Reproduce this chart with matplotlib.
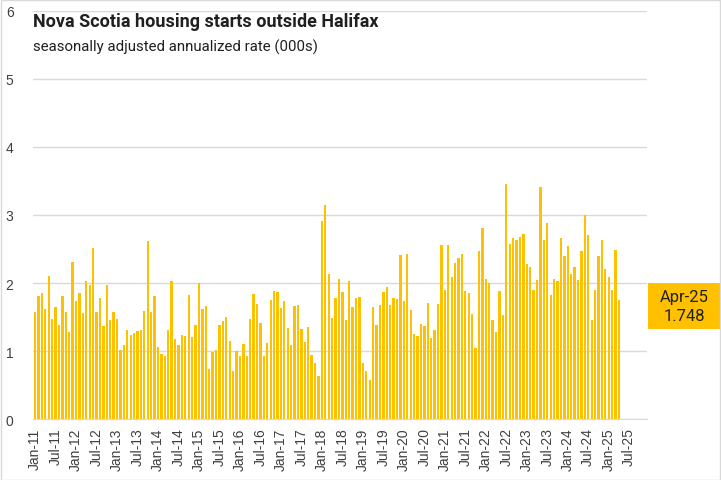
import numpy as np
import matplotlib.pyplot as plt
from matplotlib.patches import Rectangle

# ─────────────────────────── DATA ─────────────────────────────────────────────
# monthly starts, Jan-11 .. Apr-25 (SAAR, 000s)
starts = [
    1.57, 1.81, 1.85, 1.62, 2.10, 1.47, 1.65, 1.38, 1.81, 1.57, 1.28, 2.31,   # 2011
    1.74, 1.85, 1.56, 2.03, 1.97, 2.51, 1.57, 1.78, 1.37, 1.97, 1.46, 1.57,   # 2012
    1.47, 1.01, 1.09, 1.31, 1.24, 1.26, 1.29, 1.31, 1.59, 2.62, 1.57, 1.81,   # 2013
    1.06, 0.96, 0.93, 1.31, 2.03, 1.18, 1.09, 1.24, 1.22, 1.82, 1.21, 1.38,   # 2014
    2.00, 1.62, 1.66, 0.74, 0.99, 1.01, 1.38, 1.44, 1.50, 1.15, 0.71, 1.00,   # 2015
    0.93, 1.10, 0.93, 1.47, 1.84, 1.69, 1.41, 0.93, 1.12, 1.75, 1.88, 1.87,   # 2016
    1.63, 1.74, 1.34, 1.09, 1.66, 1.68, 1.32, 1.13, 1.35, 0.94, 0.82, 0.63,   # 2017
    2.91, 3.14, 2.13, 1.49, 1.78, 2.06, 1.87, 1.46, 2.03, 1.65, 1.78, 1.79,   # 2018
    0.82, 0.71, 0.57, 1.65, 1.38, 1.68, 1.87, 1.94, 1.68, 1.78, 1.76, 2.41,   # 2019
    1.74, 2.43, 1.60, 1.25, 1.22, 1.40, 1.37, 1.71, 1.19, 1.31, 1.69, 2.56,   # 2020
    1.90, 2.56, 2.09, 2.29, 2.37, 2.43, 1.88, 1.85, 1.54, 1.04, 2.47, 2.81,   # 2021
    2.06, 2.00, 1.46, 1.28, 1.88, 1.53, 3.46, 2.57, 2.66, 2.63, 2.68, 2.72,   # 2022
    2.28, 2.24, 1.90, 2.04, 3.41, 2.63, 2.88, 1.82, 2.06, 2.03, 2.66, 2.40,   # 2023
    2.54, 2.13, 2.24, 2.04, 2.47, 3.00, 2.71, 1.46, 1.90, 2.40, 2.63, 2.21,   # 2024
    2.09, 1.90, 2.49, 1.748,                                                  # 2025
]
month_names = ["Jan", "Feb", "Mar", "Apr", "May", "Jun",
               "Jul", "Aug", "Sep", "Oct", "Nov", "Dec"]
years = list(range(2011, 2026))
months = [f"{m}-{y % 100:02d}" for y in years for m in month_names]

last_label = "Apr-25"
last_value = "1.748"
# ──────────────────────────────────────────────────────────────────────────────

GOLD = "#FFC000"
TXT = "#404040"
GRID = "#D9D9D9"

fig = plt.figure(figsize=(7.21, 4.81), dpi=100)
ax = fig.add_axes([33 / 721, 1 - 420 / 481, 614 / 721, 408 / 481])

x = np.arange(len(starts))
ax.bar(x, starts, width=0.68, color=GOLD, zorder=2)

ax.set_ylim(0, 6)
ax.set_xlim(-0.6, 179.2)
ax.set_yticks(range(0, 7))
ax.yaxis.grid(True, color=GRID, lw=1.0, zorder=0)
ax.tick_params(axis="y", length=0, pad=14, labelsize=10, labelcolor=TXT)

tick_pos = list(range(0, len(months), 6))
ax.set_xticks(tick_pos)
ax.set_xticklabels([months[i] for i in tick_pos], rotation=90,
                   fontsize=10, color=TXT, family="Liberation Sans")
ax.tick_params(axis="x", length=0, pad=6)
for lbl in ax.get_yticklabels():
    lbl.set_family("Liberation Sans")

for side in ("top", "right", "left"):
    ax.spines[side].set_visible(False)
ax.spines["bottom"].set_color(GRID)

# titles
fig.text(33 / 721, 1 - 22 / 481, "Nova Scotia housing starts outside Halifax",
         fontsize=13, fontweight="bold", color="#202020",
         family="Roboto", va="center", ha="left")
fig.text(33 / 721, 1 - 47 / 481, "seasonally adjusted annualized rate (000s)",
         fontsize=10.8, color="#202020", family="Roboto",
         va="center", ha="left")

# last value callout
fig.patches.append(Rectangle((648 / 721, 1 - 330 / 481), 72 / 721, 46 / 481,
                             transform=fig.transFigure, facecolor=GOLD,
                             edgecolor="none"))
fig.text(684 / 721, 1 - 307 / 481, f"{last_label}\n{last_value}",
         fontsize=12, color="#202020", family="Roboto",
         ha="center", va="center", linespacing=1.3)

# chart border
fig.patches.append(Rectangle((0.5 / 721, 0.5 / 481), 719.5 / 721, 479.5 / 481,
                             transform=fig.transFigure, facecolor="none",
                             edgecolor=GRID, lw=1.0))

fig.savefig("out.png", dpi=100)
